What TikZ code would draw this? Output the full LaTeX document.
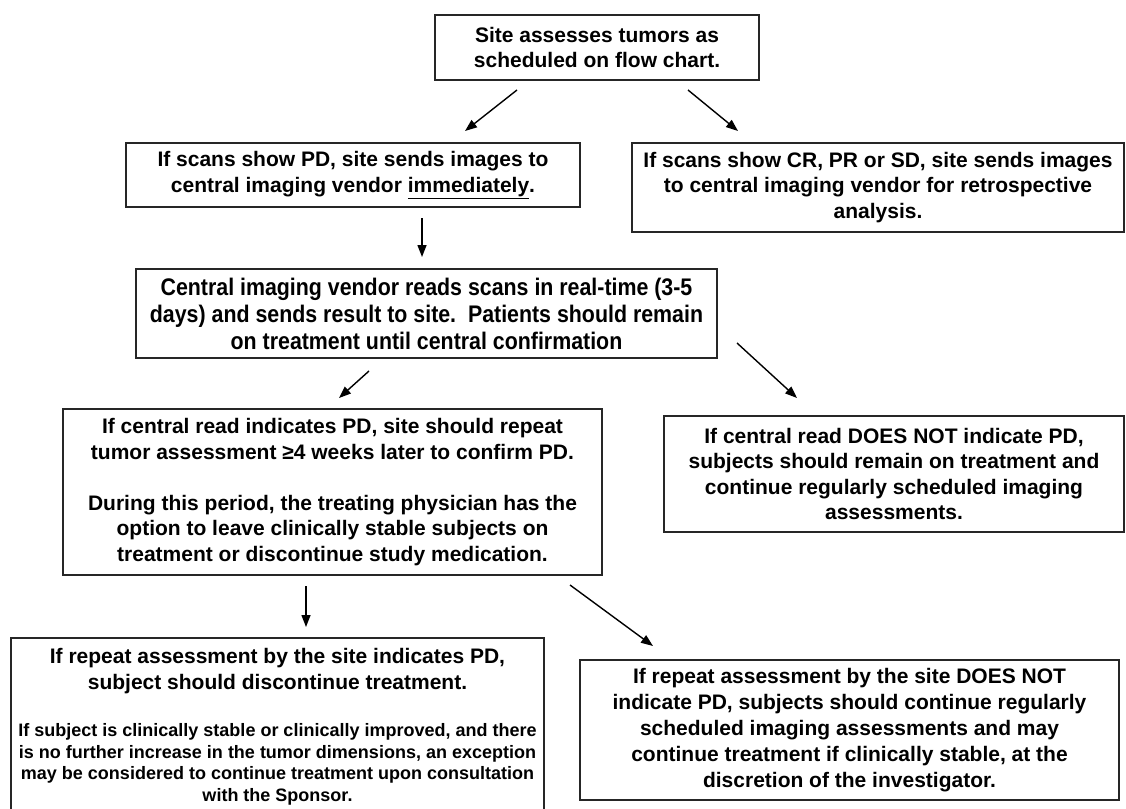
\documentclass[tikz,border=0pt]{standalone}
\usepackage{fontspec}
\setmainfont{Liberation Sans}
\newfontfamily\narrowfont[FakeStretch=0.89]{Liberation Sans}
\usetikzlibrary{arrows.meta}
\tikzset{
  box/.style={draw=black!85, line width=1.6pt, align=center, inner sep=0pt,
    font=\bfseries\fontsize{21}{25.5}\selectfont},
  arr/.style={line width=1.4pt, -{Triangle[length=12pt,width=9pt]}}
}
\begin{document}
\begin{tikzpicture}[x=1pt,y=-1pt]
\useasboundingbox (0,0) rectangle (1126,808);
\fill[white] (0,0) rectangle (1126,808);

\node[box, minimum width=324pt, minimum height=65pt] (b1) at (597,47.5)
  {Site assesses tumors as\\scheduled on flow chart.};
\node[box, minimum width=454pt, minimum height=64pt] (b2) at (353,175)
  {If scans show PD, site sends images to\\central imaging vendor \underline{immediately}.};
\node[box, minimum width=492pt, minimum height=89pt] (b3) at (878,187.5)
  {If scans show CR, PR or SD, site sends images\\to central imaging vendor for retrospective\\analysis.};
\node[box, minimum width=581pt, minimum height=89pt,
  font=\narrowfont\bfseries\fontsize{24}{27}\selectfont] (b4) at (426.5,313.5)
  {Central imaging vendor reads scans in real-time (3-5\\days) and sends result to site.\ \ Patients should remain\\on treatment until central confirmation};
\node[box, minimum width=539pt, minimum height=166pt] (b5) at (332.5,492)
  {If central read indicates PD, site should repeat\\tumor assessment ≥4 weeks later to confirm PD.\\[25.5pt]During this period, the treating physician has the\\option to leave clinically stable subjects on\\treatment or discontinue study medication.};
\node[box, minimum width=460pt, minimum height=116pt] (b6) at (894,474)
  {If central read DOES NOT indicate PD,\\subjects should remain on treatment and\\continue regularly scheduled imaging\\assessments.};
\node[box, minimum width=533pt, minimum height=180pt] (b7) at (277.5,728)
  {If repeat assessment by the site indicates PD,\\subject should discontinue treatment.\\[27pt]
   {\fontsize{18}{21.5}\selectfont\begin{tabular}{@{}c@{}}If subject is clinically stable or clinically improved, and there\\is no further increase in the tumor dimensions, an exception\\may be considered to continue treatment upon consultation\\with the Sponsor.\end{tabular}}};
\node[box, minimum width=539pt, minimum height=140pt,
  font=\bfseries\fontsize{21}{26}\selectfont] (b8) at (849.5,730)
  {If repeat assessment by the site DOES NOT\\indicate PD, subjects should continue regularly\\scheduled imaging assessments and may\\continue treatment if clinically stable, at the\\discretion of the investigator.};

\coordinate (a1s) at (517,90);  \coordinate (a1e) at (465,131);
\coordinate (a2s) at (688,90);  \coordinate (a2e) at (738,131);
\coordinate (a3s) at (422,218); \coordinate (a3e) at (422,257);
\coordinate (a4s) at (369,371); \coordinate (a4e) at (339,398);
\coordinate (a5s) at (737,343); \coordinate (a5e) at (797,398);
\coordinate (a6s) at (306,586); \coordinate (a6e) at (306,627);
\coordinate (a7s) at (570,585); \coordinate (a7e) at (653,646);

\draw[arr] (a1s) -- (a1e);
\draw[arr] (a2s) -- (a2e);
\draw[arr] (a3s) -- (a3e);
\draw[arr] (a4s) -- (a4e);
\draw[arr] (a5s) -- (a5e);
\draw[arr] (a6s) -- (a6e);
\draw[arr] (a7s) -- (a7e);
\end{tikzpicture}
\end{document}
